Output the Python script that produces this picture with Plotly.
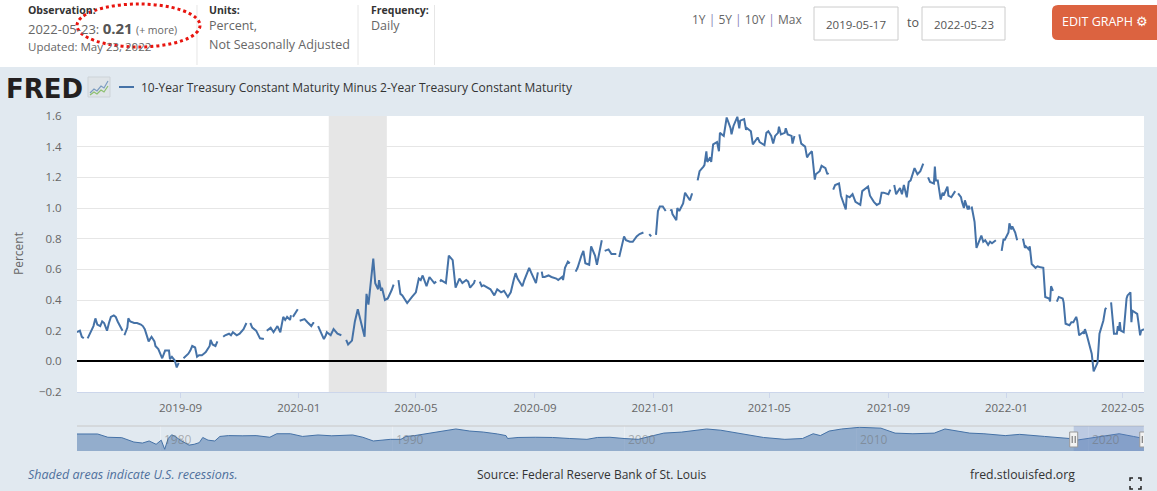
import plotly.graph_objects as go

# T10Y2Y daily spread (None = market holiday break)
spread_2019 = [
    ("2019-05-17", 0.19), ("2019-05-20", 0.20), ("2019-05-22", 0.16), ("2019-05-24", 0.15),
    ("2019-05-27", None), ("2019-05-28", 0.15), ("2019-05-31", 0.19), ("2019-06-03", 0.23),
    ("2019-06-05", 0.28), ("2019-06-07", 0.24), ("2019-06-10", 0.23), ("2019-06-12", 0.26),
    ("2019-06-14", 0.25), ("2019-06-17", 0.20), ("2019-06-19", 0.25), ("2019-06-21", 0.29),
    ("2019-06-24", 0.30), ("2019-06-26", 0.29), ("2019-06-28", 0.26), ("2019-07-01", 0.22),
    ("2019-07-03", 0.20), ("2019-07-04", None), ("2019-07-05", 0.17), ("2019-07-08", 0.22),
    ("2019-07-09", 0.28), ("2019-07-11", 0.26), ("2019-07-15", 0.25), ("2019-07-18", 0.25),
    ("2019-07-22", 0.24), ("2019-07-24", 0.23), ("2019-07-26", 0.21), ("2019-07-30", 0.13),
    ("2019-08-02", 0.16), ("2019-08-05", 0.13), ("2019-08-06", 0.10), ("2019-08-09", 0.08),
    ("2019-08-13", 0.02), ("2019-08-16", 0.07), ("2019-08-20", 0.07), ("2019-08-21", 0.015),
    ("2019-08-23", 0.03), ("2019-08-26", 0.005), ("2019-08-28", -0.04), ("2019-08-30", -0.01),
    ("2019-09-02", None), ("2019-09-04", 0.02), ("2019-09-06", 0.03), ("2019-09-09", 0.05),
    ("2019-09-11", 0.07), ("2019-09-13", 0.10), ("2019-09-16", 0.09), ("2019-09-18", 0.03),
    ("2019-09-20", 0.04), ("2019-09-23", 0.04), ("2019-09-25", 0.05), ("2019-09-27", 0.06),
    ("2019-10-01", 0.10), ("2019-10-02", 0.14), ("2019-10-04", 0.11), ("2019-10-07", 0.10),
    ("2019-10-09", 0.13), ("2019-10-14", None), ("2019-10-15", 0.16), ("2019-10-17", 0.17),
    ("2019-10-21", 0.18), ("2019-10-23", 0.17), ("2019-10-25", 0.19), ("2019-10-29", 0.17),
    ("2019-11-01", 0.18), ("2019-11-05", 0.21), ("2019-11-08", 0.25), ("2019-11-11", None),
    ("2019-11-12", 0.25), ("2019-11-14", 0.22), ("2019-11-18", 0.20), ("2019-11-20", 0.17),
    ("2019-11-22", 0.15), ("2019-11-26", 0.145), ("2019-11-28", None), ("2019-11-29", 0.20),
    ("2019-12-03", 0.22), ("2019-12-06", 0.19), ("2019-12-10", 0.23), ("2019-12-13", 0.19),
    ("2019-12-16", 0.29), ("2019-12-18", 0.27), ("2019-12-20", 0.29), ("2019-12-23", 0.27),
    ("2019-12-24", 0.30), ("2019-12-25", None), ("2019-12-26", 0.29), ("2019-12-27", 0.30),
    ("2019-12-30", 0.33), ("2019-12-31", 0.34),
]

spread_2020 = [
    ("2020-01-01", None), ("2020-01-02", 0.265), ("2020-01-07", 0.275), ("2020-01-10", 0.255),
    ("2020-01-14", 0.23), ("2020-01-16", 0.25), ("2020-01-17", 0.25), ("2020-01-20", None),
    ("2020-01-21", 0.23), ("2020-01-24", 0.19), ("2020-01-27", 0.145), ("2020-01-29", 0.17),
    ("2020-01-30", 0.19), ("2020-02-03", 0.17), ("2020-02-06", 0.21), ("2020-02-10", 0.18),
    ("2020-02-14", 0.17), ("2020-02-17", None), ("2020-02-19", 0.14), ("2020-02-21", 0.11),
    ("2020-02-25", 0.135), ("2020-02-28", 0.26), ("2020-03-02", 0.34), ("2020-03-05", 0.27),
    ("2020-03-09", 0.16), ("2020-03-11", 0.44), ("2020-03-13", 0.37), ("2020-03-18", 0.67),
    ("2020-03-20", 0.51), ("2020-03-23", 0.47), ("2020-03-24", 0.53), ("2020-03-26", 0.46),
    ("2020-03-27", 0.48), ("2020-03-30", 0.40), ("2020-04-02", 0.41), ("2020-04-06", 0.465),
    ("2020-04-08", 0.50), ("2020-04-10", None), ("2020-04-13", 0.53), ("2020-04-15", 0.44),
    ("2020-04-17", 0.43), ("2020-04-20", 0.40), ("2020-04-22", 0.38), ("2020-04-27", 0.42),
    ("2020-04-30", 0.44), ("2020-05-01", 0.45), ("2020-05-04", 0.54), ("2020-05-06", 0.53),
    ("2020-05-08", 0.56), ("2020-05-12", 0.49), ("2020-05-15", 0.55), ("2020-05-20", 0.51),
    ("2020-05-22", 0.52), ("2020-05-25", None), ("2020-05-26", 0.52), ("2020-05-27", 0.53),
    ("2020-06-01", 0.51), ("2020-06-04", 0.69), ("2020-06-08", 0.66), ("2020-06-11", 0.48),
    ("2020-06-15", 0.54), ("2020-06-18", 0.51), ("2020-06-22", 0.53), ("2020-06-24", 0.52),
    ("2020-06-26", 0.48), ("2020-06-30", 0.51), ("2020-07-01", 0.53), ("2020-07-03", None),
    ("2020-07-06", 0.52), ("2020-07-08", 0.49), ("2020-07-10", 0.495), ("2020-07-14", 0.48),
    ("2020-07-17", 0.47), ("2020-07-21", 0.43), ("2020-07-24", 0.47), ("2020-07-28", 0.45),
    ("2020-07-31", 0.46), ("2020-08-04", 0.42), ("2020-08-07", 0.45), ("2020-08-10", 0.53),
    ("2020-08-12", 0.575), ("2020-08-14", 0.54), ("2020-08-19", 0.49), ("2020-08-21", 0.53),
    ("2020-08-26", 0.61), ("2020-08-28", 0.58), ("2020-08-31", 0.53), ("2020-09-02", 0.51),
    ("2020-09-04", 0.58), ("2020-09-07", None), ("2020-09-08", 0.585), ("2020-09-09", 0.55),
    ("2020-09-11", 0.55), ("2020-09-15", 0.56), ("2020-09-18", 0.55), ("2020-09-23", 0.54),
    ("2020-09-25", 0.53), ("2020-09-29", 0.55), ("2020-09-30", 0.53), ("2020-10-02", 0.61),
    ("2020-10-05", 0.65), ("2020-10-07", 0.64), ("2020-10-12", None), ("2020-10-13", 0.585),
    ("2020-10-15", 0.61), ("2020-10-19", 0.69), ("2020-10-21", 0.72), ("2020-10-23", 0.64),
    ("2020-10-27", 0.63), ("2020-10-29", 0.75), ("2020-11-02", 0.69), ("2020-11-04", 0.63),
    ("2020-11-09", 0.79), ("2020-11-11", None), ("2020-11-12", 0.72), ("2020-11-16", 0.73),
    ("2020-11-19", 0.70), ("2020-11-24", 0.70), ("2020-11-26", None), ("2020-11-27", 0.68),
    ("2020-11-30", 0.77), ("2020-12-02", 0.815), ("2020-12-04", 0.79), ("2020-12-08", 0.78),
    ("2020-12-11", 0.78), ("2020-12-15", 0.815), ("2020-12-18", 0.83), ("2020-12-22", 0.84),
    ("2020-12-25", None), ("2020-12-28", 0.83), ("2020-12-30", 0.815),
]

spread_2021 = [
    ("2021-01-01", None), ("2021-01-04", 0.825), ("2021-01-06", 0.98), ("2021-01-08", 1.01),
    ("2021-01-11", 1.01), ("2021-01-12", 1.00), ("2021-01-14", 0.98), ("2021-01-18", None),
    ("2021-01-19", 0.98), ("2021-01-20", 0.99), ("2021-01-21", 0.96), ("2021-01-25", 0.92),
    ("2021-01-26", 1.00), ("2021-01-28", 0.98), ("2021-02-01", 1.03), ("2021-02-03", 1.10),
    ("2021-02-05", 1.08), ("2021-02-08", 1.05), ("2021-02-10", 1.09), ("2021-02-11", 1.09),
    ("2021-02-15", None), ("2021-02-16", 1.18), ("2021-02-18", 1.24), ("2021-02-22", 1.27),
    ("2021-02-23", 1.28), ("2021-02-25", 1.37), ("2021-02-26", 1.30), ("2021-03-01", 1.33),
    ("2021-03-02", 1.30), ("2021-03-04", 1.415), ("2021-03-08", 1.43), ("2021-03-10", 1.37),
    ("2021-03-11", 1.49), ("2021-03-15", 1.47), ("2021-03-16", 1.51), ("2021-03-18", 1.59),
    ("2021-03-22", 1.52), ("2021-03-23", 1.48), ("2021-03-25", 1.535), ("2021-03-29", 1.595),
    ("2021-03-31", 1.52), ("2021-04-01", 1.57), ("2021-04-05", 1.58), ("2021-04-07", 1.51),
    ("2021-04-08", 1.52), ("2021-04-12", 1.50), ("2021-04-14", 1.415), ("2021-04-19", 1.46),
    ("2021-04-21", 1.43), ("2021-04-23", 1.42), ("2021-04-26", 1.41), ("2021-04-28", 1.49),
    ("2021-04-30", 1.50), ("2021-05-03", 1.47), ("2021-05-05", 1.42), ("2021-05-07", 1.47),
    ("2021-05-10", 1.49), ("2021-05-11", 1.53), ("2021-05-13", 1.48), ("2021-05-17", 1.49),
    ("2021-05-18", 1.52), ("2021-05-20", 1.48), ("2021-05-24", 1.47), ("2021-05-25", 1.42),
    ("2021-05-27", 1.47), ("2021-05-31", None), ("2021-06-01", 1.48), ("2021-06-03", 1.42),
    ("2021-06-07", 1.40), ("2021-06-09", 1.33), ("2021-06-11", 1.35), ("2021-06-14", 1.37),
    ("2021-06-17", 1.185), ("2021-06-18", 1.22), ("2021-06-22", 1.24), ("2021-06-24", 1.275),
    ("2021-06-28", 1.26), ("2021-06-30", 1.22), ("2021-07-01", 1.23), ("2021-07-05", None),
    ("2021-07-06", 1.12), ("2021-07-08", 1.15), ("2021-07-12", 1.16), ("2021-07-14", 1.08),
    ("2021-07-19", 0.99), ("2021-07-20", 1.08), ("2021-07-23", 1.07), ("2021-07-26", 1.09),
    ("2021-07-29", 1.04), ("2021-08-03", 1.02), ("2021-08-05", 1.11), ("2021-08-09", 1.13),
    ("2021-08-11", 1.14), ("2021-08-13", 1.08), ("2021-08-17", 1.04), ("2021-08-20", 1.02),
    ("2021-08-23", 1.03), ("2021-08-25", 1.10), ("2021-08-27", 1.10), ("2021-09-01", 1.09),
    ("2021-09-03", 1.12), ("2021-09-06", None), ("2021-09-07", 1.15), ("2021-09-09", 1.09),
    ("2021-09-13", 1.13), ("2021-09-15", 1.09), ("2021-09-17", 1.15), ("2021-09-20", 1.07),
    ("2021-09-22", 1.17), ("2021-09-24", 1.18), ("2021-09-28", 1.26), ("2021-10-01", 1.22),
    ("2021-10-04", 1.24), ("2021-10-07", 1.29), ("2021-10-11", None), ("2021-10-12", 1.20),
    ("2021-10-14", 1.17), ("2021-10-18", 1.16), ("2021-10-19", 1.27), ("2021-10-20", 1.18),
    ("2021-10-22", 1.18), ("2021-10-25", 1.055), ("2021-10-27", 1.10), ("2021-10-28", 1.08),
    ("2021-11-01", 1.14), ("2021-11-02", 1.08), ("2021-11-04", 1.07), ("2021-11-05", 1.07),
    ("2021-11-09", 1.11), ("2021-11-11", None), ("2021-11-12", 1.095), ("2021-11-15", 1.07),
    ("2021-11-16", 1.04), ("2021-11-18", 1.00), ("2021-11-19", 1.05), ("2021-11-22", 0.99),
    ("2021-11-23", 1.015), ("2021-11-24", 0.99), ("2021-11-25", None), ("2021-11-26", 1.01),
    ("2021-11-29", 0.91), ("2021-12-01", 0.74), ("2021-12-03", 0.77), ("2021-12-06", 0.82),
    ("2021-12-08", 0.78), ("2021-12-10", 0.79), ("2021-12-13", 0.76), ("2021-12-15", 0.78),
    ("2021-12-17", 0.77), ("2021-12-21", 0.79), ("2021-12-24", None), ("2021-12-27", 0.72),
    ("2021-12-29", 0.80), ("2021-12-30", 0.79),
]

spread_2022 = [
    ("2022-01-03", 0.84), ("2022-01-04", 0.90), ("2022-01-06", 0.86), ("2022-01-07", 0.88),
    ("2022-01-10", 0.84), ("2022-01-12", 0.79), ("2022-01-17", None), ("2022-01-18", 0.80),
    ("2022-01-20", 0.74), ("2022-01-21", 0.75), ("2022-01-24", 0.73), ("2022-01-25", 0.75),
    ("2022-01-27", 0.635), ("2022-01-31", 0.61), ("2022-02-02", 0.62), ("2022-02-04", 0.615),
    ("2022-02-08", 0.61), ("2022-02-10", 0.42), ("2022-02-14", 0.41), ("2022-02-15", 0.39),
    ("2022-02-16", 0.49), ("2022-02-18", 0.46), ("2022-02-21", None), ("2022-02-22", 0.39),
    ("2022-02-24", 0.42), ("2022-02-28", 0.41), ("2022-03-01", 0.385), ("2022-03-03", 0.245),
    ("2022-03-07", 0.235), ("2022-03-09", 0.255), ("2022-03-11", 0.255), ("2022-03-14", 0.29),
    ("2022-03-15", 0.265), ("2022-03-17", 0.17), ("2022-03-21", 0.19), ("2022-03-22", 0.18),
    ("2022-03-23", 0.21), ("2022-03-25", 0.17), ("2022-03-28", 0.09), ("2022-03-30", 0.05),
    ("2022-04-01", -0.065), ("2022-04-04", -0.02), ("2022-04-05", -0.01), ("2022-04-07", 0.18),
    ("2022-04-11", 0.265), ("2022-04-13", 0.34), ("2022-04-14", 0.35), ("2022-04-15", None),
    ("2022-04-19", 0.385), ("2022-04-22", 0.18), ("2022-04-25", 0.18), ("2022-04-26", 0.23),
    ("2022-04-27", 0.20), ("2022-04-28", 0.255), ("2022-04-29", 0.20), ("2022-05-02", 0.19),
    ("2022-05-05", 0.41), ("2022-05-06", 0.43), ("2022-05-09", 0.45), ("2022-05-10", 0.255),
    ("2022-05-11", 0.33), ("2022-05-16", 0.31), ("2022-05-17", 0.265), ("2022-05-18", 0.20),
    ("2022-05-19", 0.17), ("2022-05-20", 0.20), ("2022-05-23", 0.21),
]

# navigator: full history of the series (decimal years)
nav_years = [1976.41, 1976.86, 1977.30, 1977.74, 1978.34, 1978.86, 1979.23, 1979.52, 1979.82,
             1980.04, 1980.19, 1980.34, 1980.49, 1980.64, 1980.86, 1981.24, 1981.46, 1981.68,
             1981.83, 1982.06, 1982.35, 1982.57, 1982.94, 1983.53, 1984.13, 1984.72, 1985.02,
             1985.61, 1986.13, 1986.80, 1987.39, 1988.29, 1988.73, 1989.18, 1989.48, 1989.92,
             1990.37, 1990.59, 1990.96, 1991.70, 1992.15, 1992.74, 1993.34, 1993.93, 1994.53,
             1994.90, 1994.97, 1995.42, 1996.16, 1996.91, 1997.65, 1998.39, 1998.84, 1999.38,
             1999.99, 2000.60, 2001.25, 2001.70, 2002.47, 2003.55, 2004.16, 2005.08, 2006.00,
             2006.92, 2007.68, 2008.14, 2008.45, 2008.83, 2009.37, 2010.14, 2011.06, 2011.67,
             2012.44, 2013.36, 2013.82, 2014.89, 2015.50, 2016.42, 2017.04, 2018.11, 2019.19,
             2019.49, 2020.41, 2021.33, 2021.94, 2022.40]
nav_values = [1.29, 1.33, 1.29, 0.50, 0.40, -0.65, -0.90, -0.40, -1.20,
              -0.20, -2.40, 0.20, 1.10, 0.70, -0.20, -1.40, -1.20, -0.80,
              0.45, -0.20, -0.40, 0.70, 0.90, 0.85, 0.90, 0.50, 1.35,
              1.35, 0.70, 1.05, 0.85, 1.05, 0.50, -0.40, -0.20, 0.00,
              0.00, 0.70, 0.90, 1.50, 2.00, 2.50, 2.00, 1.75, 1.30,
              0.90, 0.20, 0.45, 0.50, 0.45, 0.20, 0.00, 0.45, 0.50,
              0.20, 0.00, 0.90, 1.50, 1.75, 2.50, 2.20, 1.35, 0.45,
              0.00, 0.20, 1.35, 0.90, 2.00, 2.50, 2.90, 2.70, 1.50,
              1.35, 1.50, 2.50, 1.50, 1.35, 0.90, 1.20, 0.70, 0.20,
              -0.20, 0.50, 1.35, 0.70, 0.20]
nav_decades = [1980, 1990, 2000, 2010, 2020]
nav_window = [2019.37, 2022.39]

recession = ("2020-02-01", "2020-04-01")
series_name = "10-Year Treasury Constant Maturity Minus 2-Year Treasury Constant Maturity"

rows = spread_2019 + spread_2020 + spread_2021 + spread_2022
dates = [d for d, v in rows]
values = [v for d, v in rows]

# page geometry (pixels) -> paper coords
W, H = 1157, 491
ML, MR, MT, MB = 77, 13, 116, 40
PW, PH = W - ML - MR, H - MT - MB


def px(x):
    return (x - ML) / PW


def py(y):
    return (H - MB - y) / PH


FONT = "Open Sans"
BLUE = "#4572a7"
BG = "#e1e9f0"

annotations = []
shapes = []


def note(x, y, text, size=12.5, color="#666666", family=FONT, anchor="left", angle=0, **kw):
    annotations.append(dict(x=px(x), y=py(y), xref="paper", yref="paper", text=text,
                            showarrow=False, xanchor=anchor, yanchor="middle", textangle=angle,
                            font=dict(size=size, color=color, family=family), **kw))


def box(x0, y0, x1, y1, fill, line="rgba(0,0,0,0)", width=1, layer="above"):
    shapes.append(dict(type="rect", xref="paper", yref="paper", x0=px(x0), x1=px(x1),
                       y0=py(y0), y1=py(y1), fillcolor=fill, line=dict(color=line, width=width),
                       layer=layer))


def poly(pts, color, width=1.5, close=False, fill=None):
    d = "M " + " L ".join(f"{px(a):.5f},{py(b):.5f}" for a, b in pts)
    if close:
        d += " Z"
    shapes.append(dict(type="path", xref="paper", yref="paper", path=d,
                       line=dict(color=color, width=width), fillcolor=fill))


def roundbox(x0, y0, x1, y1, r, fill):
    p = lambda a, b: f"{px(a):.5f},{py(b):.5f}"
    d = (f"M {p(x0 + r, y0)} L {p(x1 - r, y0)} Q {p(x1, y0)} {p(x1, y0 + r)} "
         f"L {p(x1, y1 - r)} Q {p(x1, y1)} {p(x1 - r, y1)} L {p(x0 + r, y1)} "
         f"Q {p(x0, y1)} {p(x0, y1 - r)} L {p(x0, y0 + r)} Q {p(x0, y0)} {p(x0 + r, y0)} Z")
    shapes.append(dict(type="path", xref="paper", yref="paper", path=d,
                       fillcolor=fill, line=dict(width=0)))


# header strip
box(0, 0, W, 67, "white", layer="below")
for xd in (197, 358, 434.5):
    poly([(xd, 5), (xd, 65)], "#e6e6e6", 1)

note(26, 10, "<b>Observation:</b>", 10.5, "#333333")
note(26, 28, "2022-05-23: <b><span style='font-size:15px;color:#555'>0.21</span></b> "
             "<span style='font-size:10.5px'>(+ more)</span>", 13)
note(26, 46, "Updated: May 23, 2022", 11.5)
note(207, 10, "<b>Units:</b>", 10.5, "#333333")
note(207, 26, "Percent,", 12.5)
note(207, 44, "Not Seasonally Adjusted", 12.5)
note(369, 10, "<b>Frequency:</b>", 10.5, "#333333")
note(369, 26, "Daily", 12.5)

sep = "<span style='color:#8a7fb8'> | </span>"
note(690, 20, "1Y" + sep + "5Y" + sep + "10Y" + sep + "Max", 12)
box(814, 7, 898, 40, "white", "#cccccc")
note(856, 24, "2019-05-17", 11.5, "#555555", anchor="center")
note(905, 22, "to", 12.5, "#555555")
box(922, 7, 1005, 40, "white", "#cccccc")
note(963.5, 24, "2022-05-23", 11.5, "#555555", anchor="center")
roundbox(1052, 5, 1163, 40, 6, "#dc6340")
note(1060, 21, "EDIT GRAPH \u2699", 12.5, "white")

# red dotted call-out ellipse
shapes.append(dict(type="circle", xref="paper", yref="paper", x0=px(77), x1=px(200),
                   y0=py(4), y1=py(47), line=dict(color="#e8150f", width=3, dash="dot")))

# FRED logo + legend
note(4, 89, "<b>FRED</b>", 26, "#231f20", family="DejaVu Sans")
box(88, 77, 110, 97, "#dfe4e8", "#cdd3d8")
poly([(90, 93), (94, 89), (97, 91), (101, 86), (104, 88), (108, 81)], "#7c9cc0", 1.2)
poly([(90, 95), (94, 92), (97, 94), (101, 90), (104, 92), (108, 86)], "#8cbf6e", 1.2)
poly([(119, 87), (134, 87)], BLUE, 2)
note(139, 87, series_name, 12, "#333333")

note(18, 254, "Percent", 12, angle=-90, anchor="center")

# footer
note(26, 474, "<i>Shaded areas indicate U.S. recessions.</i>", 12.5, "#4f709c")
note(591, 474, "Source: Federal Reserve Bank of St. Louis", 12, "#333333", anchor="center")
note(968, 474, "fred.stlouisfed.org", 12.3, "#333333")
for c in ([(1130, 481), (1130, 478), (1133, 478)], [(1138, 478), (1141, 478), (1141, 481)],
          [(1130, 486), (1130, 489), (1133, 489)], [(1138, 489), (1141, 489), (1141, 486)]):
    poly(c, "#222222", 1.5)

# plot area background + recession band
shapes.append(dict(type="rect", xref="x domain", yref="y domain", x0=0, x1=1, y0=0, y1=1,
                   fillcolor="white", line=dict(width=0), layer="below"))
shapes.append(dict(type="rect", xref="x", yref="y domain", x0=recession[0], x1=recession[1],
                   y0=0, y1=1, fillcolor="#e6e6e6", line=dict(width=0), layer="below"))

# navigator decorations
shapes.append(dict(type="line", xref="x2 domain", yref="y2 domain", x0=0, x1=1, y0=1, y1=1,
                   line=dict(color="#c8c8c8", width=1)))
shapes.append(dict(type="rect", xref="x2", yref="y2 domain", x0=nav_window[0], x1=nav_window[1],
                   y0=0, y1=1, fillcolor="rgba(102,133,194,0.3)", line=dict(width=0)))
for xa in nav_window:
    shapes.append(dict(type="rect", xref="x2", xsizemode="pixel", xanchor=xa, x0=-4, x1=4,
                       yref="paper", y0=py(447), y1=py(432), fillcolor="#f2f2f2",
                       line=dict(color="#999999", width=1)))
    for dx in (-1.5, 1.5):
        shapes.append(dict(type="line", xref="x2", xsizemode="pixel", xanchor=xa, x0=dx, x1=dx,
                           yref="paper", y0=py(443), y1=py(436),
                           line=dict(color="#666666", width=1)))
for yr in nav_decades:
    annotations.append(dict(x=yr, xref="x2", y=py(439), yref="paper", text=str(yr),
                            showarrow=False, xanchor="left", xshift=2, yanchor="middle",
                            font=dict(size=12, color="rgba(110,110,110,0.5)", family=FONT)))

nav_floor = -2.82

fig = go.Figure()
fig.add_trace(go.Scatter(x=dates, y=values, mode="lines", name=series_name,
                         line=dict(color=BLUE, width=2), connectgaps=False))
fig.add_trace(go.Scatter(x=[nav_years[0], nav_years[-1]], y=[nav_floor, nav_floor],
                         xaxis="x2", yaxis="y2", mode="lines", line=dict(width=0),
                         hoverinfo="skip"))
fig.add_trace(go.Scatter(x=nav_years, y=nav_values, xaxis="x2", yaxis="y2", mode="lines",
                         line=dict(color=BLUE, width=1), fill="tonexty",
                         fillcolor="rgba(69,114,167,0.5)", hoverinfo="skip"))

fig.update_layout(
    width=W, height=H,
    margin=dict(l=ML, r=MR, t=MT, b=MB, pad=0),
    paper_bgcolor=BG, plot_bgcolor=BG,
    showlegend=False,
    font=dict(family=FONT, size=11.5, color="#666666"),
    xaxis=dict(type="date", range=["2019-05-17", "2022-05-23"], domain=[0, 1], anchor="y",
               tick0="2019-09-01", dtick="M4", tickformat="%Y-%m", ticks="outside",
               ticklen=5, tickcolor="#ccd6eb", showline=True, linecolor="#ccd6eb",
               showgrid=False, zeroline=False, tickfont=dict(size=11.5, color="#666666")),
    yaxis=dict(range=[-0.2, 1.6], dtick=0.2, tickformat=".1f", domain=[py(392), 1],
               anchor="x", showgrid=True, gridcolor="#e6e6e6", gridwidth=1,
               zeroline=True, zerolinecolor="black", zerolinewidth=2,
               ticks="outside", ticklen=12, tickcolor="rgba(0,0,0,0)",
               tickfont=dict(size=11.5, color="#666666")),
    xaxis2=dict(range=[nav_years[0], nav_years[-1]], domain=[0, 1], anchor="y2",
                tickvals=nav_decades, showticklabels=False, showgrid=True,
                gridcolor="rgba(255,255,255,0.3)", zeroline=False, showline=False),
    yaxis2=dict(range=[nav_floor, 3.22], domain=[0, py(426)], anchor="x2", visible=False),
    shapes=shapes,
    annotations=annotations,
)

# the page body has a default 8px margin; drop it so the figure fills the window
fig.write_html("out.html", config={"displayModeBar": False},
               post_script="document.body.style.margin='0px';")
